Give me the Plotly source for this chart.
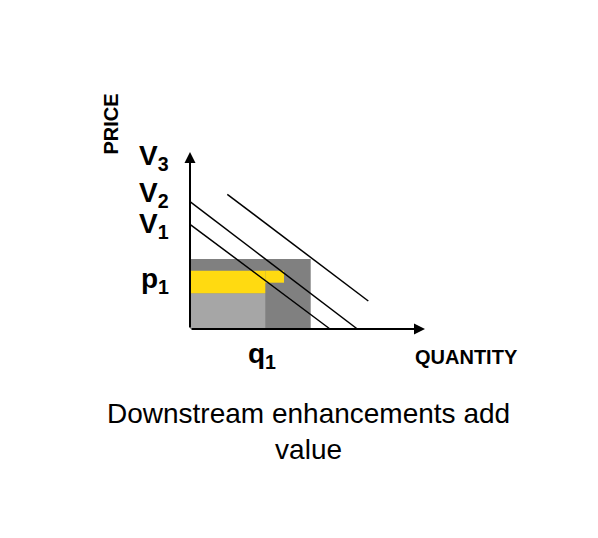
import plotly.graph_objects as go

# ---- data (units: quantity / price in arbitrary diagram units) ----
curve_names = ["V1", "V2", "V3"]
curve_x = [[0.0, 14.0], [0.0, 16.73], [3.73, 17.83]]
curve_y = [[10.47, 0.0], [12.73, 0.0], [13.47, 2.8]]

# rectangles: (x0, x1, y0, y1)
rect_names = ["total value", "base value", "added value", "added value ext"]
rect_x0 = [0.0, 0.0, 0.0, 7.53]
rect_x1 = [12.07, 7.53, 7.53, 9.4]
rect_y0 = [0.0, 0.0, 3.57, 4.63]
rect_y1 = [7.0, 3.57, 5.83, 5.83]
rect_colors = ["#808080", "#A6A6A6", "#FFDA11", "#FFDA11"]

axis_x_max = 23.5
axis_y_max = 17.7

price_labels = ["V<sub>3</sub>", "V<sub>2</sub>", "V<sub>1</sub>", "p<sub>1</sub>"]
price_label_y = [17.2, 13.5, 10.4, 4.9]
q_label = "q<sub>1</sub>"
q_label_x = 7.2

FONT = "Arial, Liberation Sans, sans-serif"

fig = go.Figure()

for x0, x1, y0, y1, c in zip(rect_x0, rect_x1, rect_y0, rect_y1, rect_colors):
    fig.add_shape(type="rect", xref="x", yref="y", x0=x0, x1=x1, y0=y0, y1=y1,
                  fillcolor=c, line=dict(width=0), layer="below")

for name, xs, ys in zip(curve_names, curve_x, curve_y):
    fig.add_trace(go.Scatter(x=xs, y=ys, mode="lines", name=name,
                             line=dict(color="black", width=1.5), showlegend=False,
                             hoverinfo="skip"))

# axes with arrows
fig.add_annotation(x=axis_x_max, y=0, ax=0, ay=0, xref="x", yref="y", axref="x", ayref="y",
                   showarrow=True, arrowhead=2, arrowsize=1.1, arrowwidth=2, arrowcolor="black", text="")
fig.add_annotation(x=0, y=axis_y_max, ax=0, ay=0, xref="x", yref="y", axref="x", ayref="y",
                   showarrow=True, arrowhead=2, arrowsize=1.1, arrowwidth=2, arrowcolor="black", text="")

for lab, yy in zip(price_labels, price_label_y):
    fig.add_annotation(x=-1.9, y=yy, xref="x", yref="y", text=f"<b>{lab}</b>", showarrow=False,
                       xanchor="right", yanchor="middle", font=dict(family=FONT, size=28, color="black"))

fig.add_annotation(x=q_label_x, y=-2.6, xref="x", yref="y", text=f"<b>{q_label}</b>", showarrow=False,
                   xanchor="center", yanchor="middle", font=dict(family=FONT, size=28, color="black"))

fig.add_annotation(x=-7.95, y=20.5, xref="x", yref="y", text="<b>PRICE</b>", showarrow=False,
                   textangle=-90, xanchor="center", yanchor="middle",
                   font=dict(family=FONT, size=20, color="black"))
fig.add_annotation(x=27.6, y=-2.75, xref="x", yref="y", text="<b>QUANTITY</b>", showarrow=False,
                   xanchor="center", yanchor="middle", font=dict(family=FONT, size=20, color="black"))

fig.add_annotation(x=11.85, y=-10.25, xref="x", yref="y",
                   text="Downstream enhancements add<br>value", showarrow=False,
                   xanchor="center", yanchor="middle", align="center",
                   font=dict(family=FONT, size=28, color="black"))

fig.update_layout(
    width=598, height=538,
    margin=dict(l=0, r=0, t=0, b=0),
    paper_bgcolor="white", plot_bgcolor="white",
    xaxis=dict(range=[-18.2, 41.6], visible=False, fixedrange=True),
    yaxis=dict(range=[-21.7, 32.1], visible=False, fixedrange=True),
    showlegend=False,
)

fig.write_html("out.html")
